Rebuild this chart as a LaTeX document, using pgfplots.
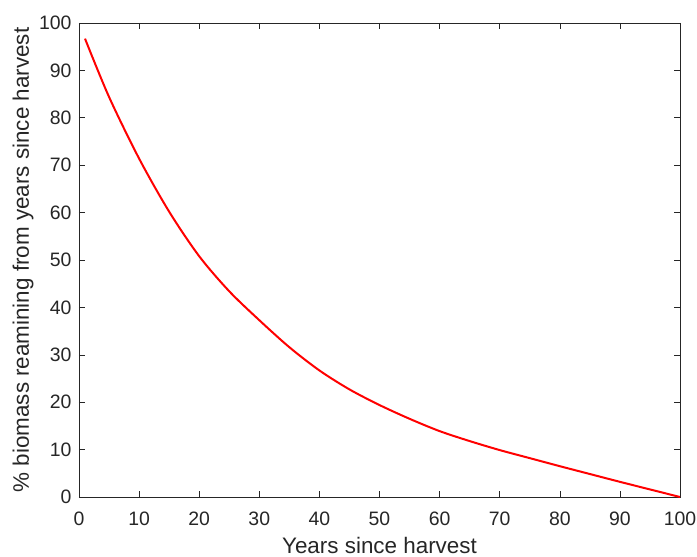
\documentclass[border=0pt]{standalone}
\usepackage{pgfplots}
\pgfplotsset{compat=1.18}
\usepackage{fontspec}
\setmainfont{Liberation Sans}
\definecolor{axgray}{HTML}{262626}
\begin{document}
\begin{tikzpicture}
\begin{axis}[
  scale only axis,
  width=601bp, height=474bp,
  xmin=0, xmax=100, ymin=0, ymax=100,
  xtick={0,10,...,100}, ytick={0,10,...,100},
  tick align=inside,
  major tick length=6bp,
  axis line style={axgray, line width=0.6pt},
  every tick/.style={axgray, line width=0.6pt},
  tick label style={font=\fontsize{19.5}{21}\selectfont, text=axgray},
  xticklabel style={yshift=-11bp},
  yticklabel style={xshift=-4bp},
  label style={font=\fontsize{22.5}{24}\selectfont, text=axgray},
  /pgf/number format/assume math mode=true,
  xlabel={Years since harvest},
  ylabel={\% biomass reamining from years since harvest},
  xlabel style={at={(axis description cs:0.5,-0.1185)}, anchor=base},
  ylabel style={at={(axis description cs:-0.0832,0.5)}, anchor=base},
]
\addplot[red, line width=2pt, smooth, tension=0.5] coordinates {
(1,96.7) (5,84.4) (10,71.4) (15,60.2) (20,50.8) (25,43.4) (30,37.3)
(35,31.6) (40,26.7) (45,22.7) (50,19.4) (55,16.5) (60,13.9) (65,11.8)
(70,9.9) (75,8.2) (80,6.5) (85,4.85) (90,3.2) (95,1.6) (100,0)
};
\end{axis}
\pgfresetboundingbox
\path (current axis.south west) ++(-79bp,-60bp) coordinate (bl);
\path (current axis.north east) ++(17bp,23bp) coordinate (tr);
\path[use as bounding box] (bl) rectangle (tr);
\end{tikzpicture}
\end{document}
